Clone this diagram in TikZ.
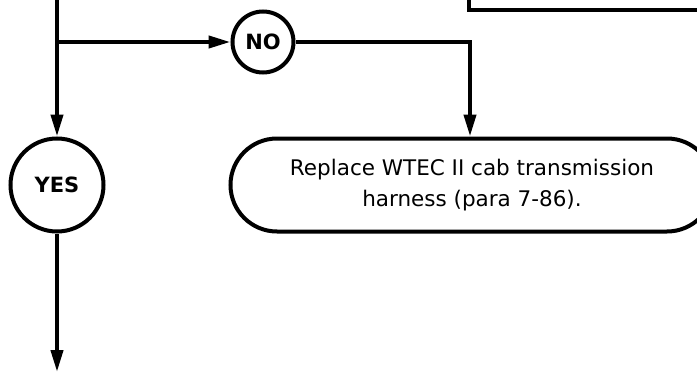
\documentclass[tikz,border=0pt]{standalone}
\usepackage{fontspec}
\setmainfont{DejaVu Sans}
\usetikzlibrary{arrows.meta,shapes.misc}
\begin{document}
\begin{tikzpicture}[x=1pt,y=-1pt,
  lw/.style={line width=4pt},
  conn/.style={lw,-{Triangle[length=22pt,width=12pt]}},
  decision/.style={lw,draw,circle,inner sep=0pt,font=\fontsize{21}{24}\selectfont\bfseries},
  terminal/.style={lw,draw,rounded rectangle,inner sep=0pt,align=center,font=\fontsize{21.5}{33}\selectfont},
  prevbox/.style={lw,draw,rectangle,inner sep=0pt}]
\clip (0,0) rectangle (697,372);
\fill[white] (0,0) rectangle (697,372);
\node[prevbox,minimum width=340pt,minimum height=120pt] (prev) at (639,-50) {};
\node[decision,minimum size=61pt] (no) at (263,42) {NO};
\node[decision,minimum size=93pt] (yes) at (57,185) {YES};
\node[terminal,minimum width=483pt,minimum height=93pt] (fix) at (472,185)
  {\raisebox{-2pt}{Replace WTEC II cab transmission}\\harness (para 7-86).};
\coordinate (top) at (57,-5);
\coordinate (j) at (57,42);
\coordinate (c) at (470,42);
\coordinate (bot) at (57,372);
\draw[conn] (top) -- (yes);
\draw[conn] (j) -- (no);
\draw[conn] (no) -- (c) -- (c |- fix.north);
\draw[conn] (yes) -- (bot);
\end{tikzpicture}
\end{document}
